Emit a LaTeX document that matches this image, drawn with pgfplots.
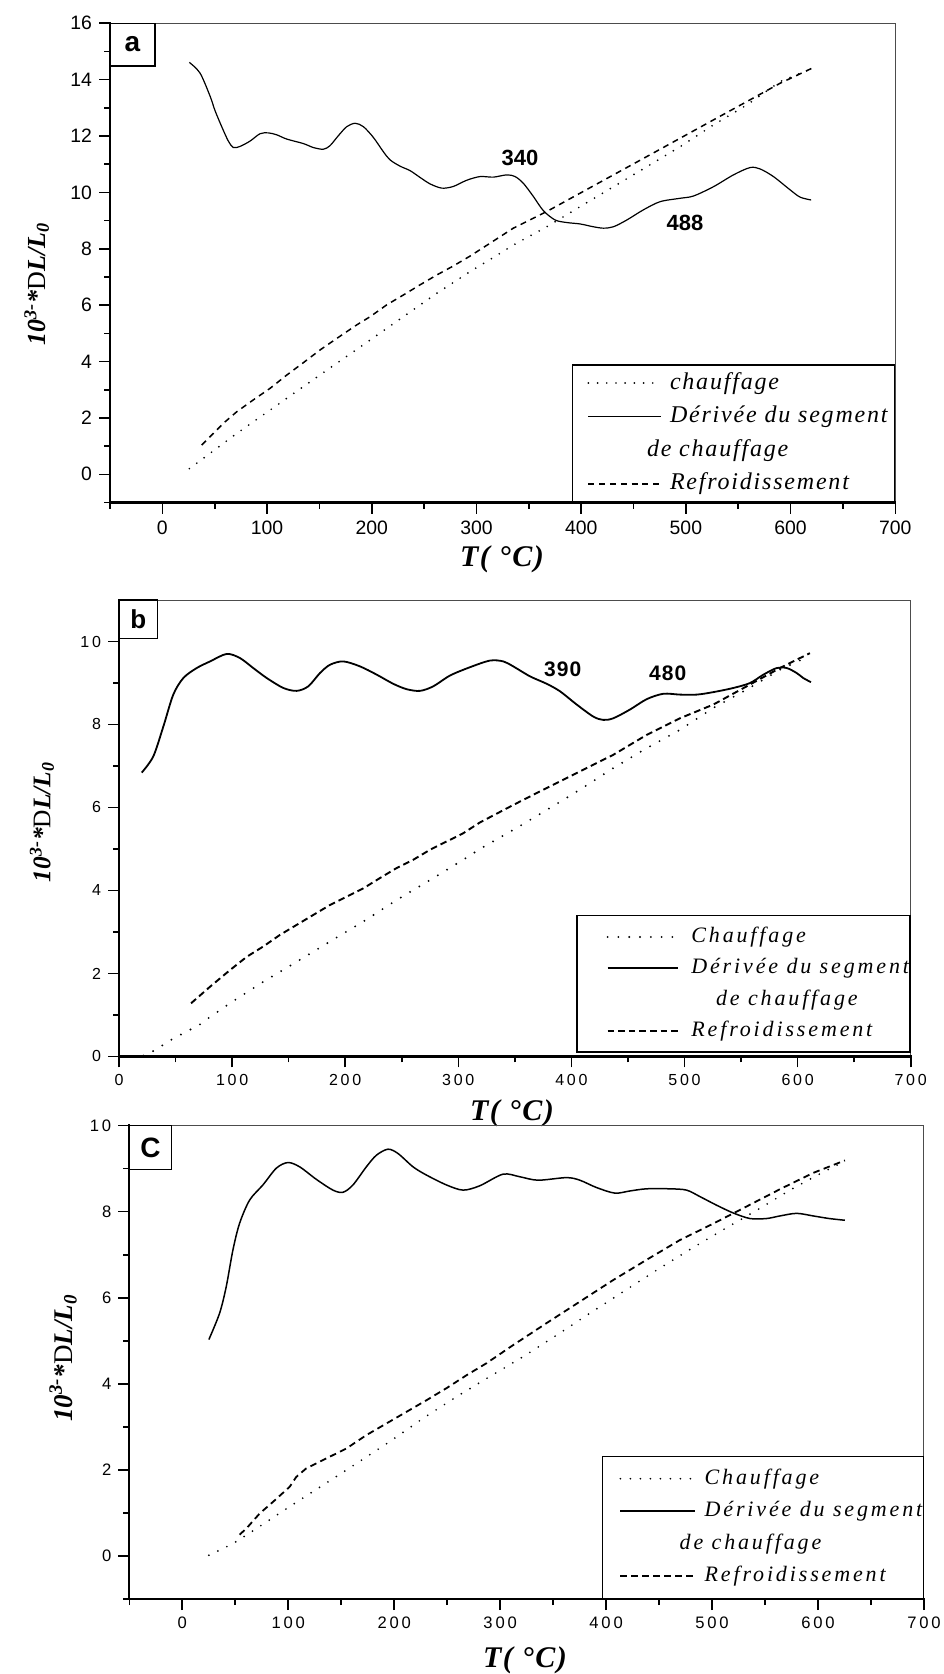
\documentclass[border=0pt]{standalone}
\usepackage{fontspec}
\setmainfont{Liberation Serif}
\usepackage{pgfplots}
\pgfplotsset{compat=1.18}
\newfontfamily\sansA{Liberation Sans}
\newfontfamily\sansB[LetterSpace=17]{Liberation Sans}
\newfontfamily\sansC[LetterSpace=5]{Liberation Sans}
\newfontfamily\serifL[LetterSpace=7.5]{Liberation Serif}
\newfontfamily\serifM[LetterSpace=13]{Liberation Serif}
\newfontfamily\serifT[LetterSpace=5]{Liberation Serif}

\pgfplotsset{
  panel/.style={
    scale only axis,
    axis line style={line width=0.5pt, black!70},
    tick align=outside,
    tick pos=left,
    major tick length=5.5pt,
    minor tick length=3pt,
    tick style={black, line width=0.8pt},
    /pgf/number format/assume math mode=true,
    clip=false,
    legend cell align=left,
    after end axis/.append code={\draw[black, line width=1.1pt, line cap=rect] (rel axis cs:0,1) -- (rel axis cs:0,0) -- (rel axis cs:1,0);},
  },
  heat/.style={black, line width=0.95pt, line cap=round, dash pattern=on 0pt off 4.6pt},
  cool/.style={black, line width=0.75pt, dash pattern=on 3pt off 2.4pt},
  deriv/.style={black, line width=0.6pt, smooth, tension=0.5},
}

\newcommand{\ylab}{\bfseries\itshape 10\textsuperscript{3-}*{\mdseries\upshape D}L/L\textsubscript{0}}

\begin{document}
\begin{tikzpicture}
\path[use as bounding box] (0pt,0pt) rectangle (471.5pt,-837pt);

% ================= panel a =================
\begin{axis}[panel,
  at={(55pt,-11.6pt)}, anchor=north west,
  width=392.65pt, height=239.65pt,
  xmin=-50, xmax=700, ymin=-1, ymax=16,
  xtick={0,100,...,700}, minor xtick={-50,50,...,650},
  ytick={0,2,...,16}, minor ytick={-1,1,...,15},
  ticklabel style={font=\fontsize{9.7}{11}\selectfont\sansA},
  legend image code/.code={\path[draw=none,fill=none] (0pt,0pt) -- (40.85pt,0pt); \draw[#1] (4.35pt,0pt) -- (40.85pt,0pt);},
  legend style={at={(1,0)}, anchor=south east, draw=black, line width=0.7pt,
    font=\fontsize{12}{14}\selectfont\serifL\itshape,
    inner xsep=3.5pt, inner ysep=3pt, row sep=4.8pt, column sep=3.85pt,
    nodes={inner xsep=0pt, inner ysep=0pt, text height=9pt, text depth=3pt}},
]
\addplot[heat] coordinates {
(25.8,0.20) (36.0,0.48) (71.1,1.45) (102.9,2.28) (134.7,3.11) (166.6,3.94)
(198.4,4.76) (230.2,5.59) (262.1,6.42) (293.9,7.19) (313.0,7.62) (335.2,8.13)
(367.1,8.78) (398.9,9.49) (430.8,10.20) (462.7,10.91) (494.5,11.62)
(526.3,12.39) (558.2,13.10) (590.0,13.93) (618.6,14.37)
};
\addlegendentry{chauffage}
\addplot[deriv] coordinates {
(25.8,14.61) (36.0,14.23) (45.6,13.41) (50.3,12.90) (56.7,12.33) (63.0,11.82)
(67.8,11.59) (74.2,11.63) (83.8,11.82) (93.3,12.08) (101.2,12.11) (109.3,12.04)
(118.8,11.89) (134.7,11.73) (144.2,11.59) (153.8,11.53) (160.2,11.66)
(168.1,12.01) (176.1,12.33) (184.1,12.45) (192.0,12.33) (201.5,11.95)
(211.1,11.44) (217.5,11.15) (227.0,10.93) (236.6,10.77) (246.1,10.53)
(255.7,10.30) (266.9,10.15) (277.9,10.21) (290.7,10.43) (303.4,10.56)
(316.1,10.54) (328.9,10.62) (336.9,10.56) (344.8,10.32) (354.4,9.85)
(363.9,9.35) (375.1,9.02) (386.2,8.93) (398.9,8.88) (411.6,8.78) (421.2,8.73)
(430.8,8.78) (443.6,9.02) (459.4,9.38) (475.4,9.67) (494.5,9.79) (507.2,9.87)
(526.3,10.20) (545.4,10.62) (561.3,10.88) (570.9,10.83) (583.6,10.56)
(599.5,10.09) (609.1,9.83) (619.6,9.73)
};
\addlegendentry{Dérivée du segment}
\addlegendimage{empty legend}
\addlegendentry{\hspace*{-11.5pt}de chauffage}
\addplot[cool] coordinates {
(37.6,1.04) (48.7,1.45) (58.3,1.81) (71.1,2.22) (86.9,2.64) (102.9,3.05)
(118.8,3.52) (134.7,3.96) (150.6,4.41) (166.6,4.82) (185.7,5.30) (198.4,5.59)
(214.3,6.01) (230.2,6.36) (246.1,6.72) (262.1,7.07) (277.9,7.39) (293.9,7.74)
(335.2,8.73) (367.1,9.32) (398.9,9.97) (430.8,10.62) (462.7,11.27)
(494.5,11.92) (526.3,12.57) (558.2,13.22) (590.0,13.87) (620.3,14.40)
};
\addlegendentry{Refroidissement}
\node[font=\fontsize{11}{13}\selectfont\sansA\bfseries] at (axis cs:341.6,11.21) {340};
\node[font=\fontsize{11}{13}\selectfont\sansA\bfseries] at (axis cs:499.2,8.93) {488};
\end{axis}
\node[draw=black, line width=0.6pt, minimum width=22.5pt, minimum height=21.45pt, inner sep=0pt,
  font=\fontsize{14}{16}\selectfont\sansA\bfseries] at (66.25pt,-22.3pt) {a};
\node[font=\fontsize{15}{17}\selectfont\serifT\bfseries\itshape] at (251pt,-279.5pt) {T( °C)};
\node[rotate=90, font=\fontsize{13}{15}\selectfont] at (18.35pt,-142pt) {\ylab};

% ================= panel b =================
\begin{axis}[panel,
  at={(59.5pt,-300pt)}, anchor=north west,
  width=395.85pt, height=228.2pt,
  xmin=0, xmax=700, ymin=0, ymax=11,
  xtick={0,100,...,700}, minor xtick={50,150,...,650},
  ytick={0,2,...,10}, minor ytick={1,3,...,9},
  ticklabel style={font=\fontsize{8}{10}\selectfont\sansB},
  legend image code/.code={\path[draw=none,fill=none] (0pt,0pt) -- (49.8pt,0pt); \draw[#1] (14.8pt,0pt) -- (49.8pt,0pt);},
  legend style={at={(1,0.0077)}, anchor=south east, draw=black, line width=0.7pt,
    font=\fontsize{11}{13}\selectfont\serifM\itshape,
    inner xsep=0.5pt, inner ysep=5pt, row sep=4.35pt, column sep=6.35pt,
    nodes={inner xsep=0pt, inner ysep=0pt, text height=8.5pt, text depth=2.8pt}},
]
\addplot[heat, line width=1.05pt, dash pattern=on 0pt off 5.4pt] coordinates {
(21.5,0.02) (27.4,0.08) (48.0,0.43) (71.6,0.77) (79.0,0.92) (98.1,1.28)
(127.6,1.80) (157.1,2.28) (186.6,2.77) (216.0,3.25) (245.5,3.77) (275.0,4.25)
(304.4,4.74) (319.2,5.00) (348.6,5.46) (378.2,5.94) (407.6,6.43) (437.1,6.95)
(466.6,7.43) (496.0,7.87) (525.5,8.40) (555.0,8.84) (584.4,9.32) (609.5,9.64)
};
\addlegendentry{Chauffage}
\addplot[deriv, line width=0.9pt] coordinates {
(20.1,6.84) (30.3,7.23) (39.2,7.95) (48.0,8.72) (56.9,9.12) (68.7,9.36)
(80.5,9.52) (95.2,9.70) (107.0,9.60) (118.7,9.36) (130.6,9.12) (145.3,8.88)
(157.1,8.81) (167.4,8.92) (177.7,9.24) (186.6,9.44) (198.3,9.52) (213.1,9.40)
(227.9,9.20) (242.5,8.98) (254.4,8.85) (266.1,8.81) (277.9,8.92) (292.7,9.18)
(310.3,9.38) (328.0,9.54) (339.8,9.52) (348.6,9.40) (363.4,9.16) (378.2,8.98)
(389.9,8.80) (404.7,8.48) (419.4,8.19) (428.2,8.11) (437.1,8.15) (451.8,8.36)
(466.6,8.61) (481.3,8.74) (496.0,8.72) (510.8,8.72) (525.5,8.78) (543.2,8.88)
(558.0,9.00) (569.7,9.20) (581.5,9.36) (590.4,9.36) (599.2,9.24) (605.0,9.12)
(611.8,9.02)
};
\addlegendentry{Dérivée du segment}
\addlegendimage{empty legend}
\addlegendentry{\hspace*{12.35pt}de chauffage}
\addplot[cool, line width=0.95pt, dash pattern=on 3.3pt off 2pt] coordinates {
(63.7,1.28) (80.5,1.68) (98.1,2.08) (112.9,2.40) (127.6,2.65) (142.4,2.93)
(157.1,3.17) (171.8,3.41) (186.6,3.65) (201.3,3.85) (216.0,4.05) (230.8,4.30)
(245.5,4.54) (260.2,4.74) (275.0,4.98) (289.7,5.18) (304.4,5.38) (319.2,5.64)
(348.6,6.06) (378.2,6.47) (407.6,6.87) (437.1,7.27) (466.6,7.75) (496.0,8.15)
(525.5,8.48) (555.0,8.92) (584.4,9.36) (610.9,9.72)
};
\addlegendentry{Refroidissement}
\node[font=\fontsize{10.5}{12}\selectfont\sansC\bfseries] at (axis cs:392.3,9.34) {390};
\node[font=\fontsize{10.5}{12}\selectfont\sansC\bfseries] at (axis cs:485.1,9.24) {480};
\end{axis}
\node[draw=black, line width=0.6pt, minimum width=19.35pt, minimum height=19.3pt, inner sep=0pt,
  font=\fontsize{13}{15}\selectfont\sansA\bfseries] at (69.2pt,-309.65pt) {b};
\node[font=\fontsize{15}{17}\selectfont\serifT\bfseries\itshape] at (256pt,-556.5pt) {T( °C)};
\node[rotate=90, font=\fontsize{12.7}{15}\selectfont] at (21pt,-411pt) {\ylab};

% ================= panel c =================
\begin{axis}[panel,
  at={(64.65pt,-562.75pt)}, anchor=north west,
  width=397.35pt, height=236.85pt,
  xmin=-50, xmax=700, ymin=-1, ymax=10,
  xtick={0,100,...,700}, minor xtick={-50,50,...,650},
  ytick={0,2,...,10}, minor ytick={-1,1,...,9},
  ticklabel style={font=\fontsize{8.3}{10}\selectfont\sansB},
  legend image code/.code={\path[draw=none,fill=none] (0pt,0pt) -- (45.85pt,0pt); \draw[#1] (8.35pt,0pt) -- (45.85pt,0pt);},
  legend style={at={(1,0)}, anchor=south east, draw=black, line width=0.7pt,
    font=\fontsize{11}{13}\selectfont\serifM\itshape,
    inner xsep=0.5pt, inner ysep=5.5pt, row sep=4.95pt, column sep=4.15pt,
    nodes={inner xsep=0pt, inner ysep=0pt, text height=8.5pt, text depth=2.8pt}},
]
\addplot[heat, dash pattern=on 0pt off 5pt] coordinates {
(25.1,0.02) (47.8,0.29) (69.9,0.64) (101.3,1.15) (132.8,1.65) (164.3,2.15)
(195.8,2.66) (227.2,3.20) (258.7,3.70) (290.2,4.17) (321.6,4.63) (353.2,5.13)
(384.6,5.64) (416.1,6.14) (447.6,6.64) (479.0,7.12) (510.5,7.58) (542.0,8.03)
(573.5,8.50) (604.9,8.92) (625.4,9.17)
};
\addlegendentry{Chauffage}
\addplot[deriv, line width=0.75pt] coordinates {
(25.1,5.03) (35.2,5.64) (41.5,6.26) (47.8,7.11) (54.1,7.73) (63.6,8.27)
(76.1,8.62) (88.8,9.01) (99.7,9.14) (110.8,9.04) (126.5,8.75) (142.2,8.50)
(151.7,8.45) (161.1,8.62) (173.7,9.04) (183.2,9.31) (194.1,9.45) (203.6,9.35)
(217.8,9.04) (230.4,8.85) (249.3,8.62) (265.0,8.50) (280.7,8.60) (302.7,8.87)
(318.5,8.81) (335.8,8.73) (362.6,8.79) (375.2,8.73) (390.9,8.56) (408.2,8.43)
(422.4,8.48) (438.1,8.53) (460.2,8.53) (475.9,8.50) (488.5,8.35) (504.2,8.15)
(519.9,7.97) (535.7,7.84) (551.4,7.84) (564.0,7.90) (579.8,7.96) (595.5,7.90)
(610.6,7.84) (625.4,7.80)
};
\addlegendentry{Dérivée du segment}
\addlegendimage{empty legend}
\addlegendentry{\hspace*{-12.5pt}de chauffage}
\addplot[cool, line width=0.9pt, dash pattern=on 3.3pt off 2.2pt] coordinates {
(54.1,0.50) (60.4,0.64) (73.0,0.99) (85.6,1.26) (101.3,1.61) (107.6,1.84)
(117.1,2.04) (136.0,2.27) (154.9,2.50) (173.7,2.81) (192.6,3.08) (211.5,3.35)
(230.4,3.62) (249.3,3.90) (268.2,4.20) (287.1,4.48) (312.2,4.90) (343.7,5.41)
(375.2,5.91) (406.6,6.41) (438.1,6.88) (469.6,7.34) (501.0,7.72) (532.6,8.12)
(564.0,8.52) (595.5,8.90) (625.4,9.19)
};
\addlegendentry{Refroidissement}
\end{axis}
\node[draw=black, line width=0.6pt, minimum width=21.2pt, minimum height=21.95pt, inner sep=0pt,
  font=\fontsize{14}{16}\selectfont\sansA\bfseries] at (75.25pt,-573.7pt) {C};
\node[font=\fontsize{15}{17}\selectfont\serifT\bfseries\itshape] at (262.5pt,-830.2pt) {T( °C)};
\node[rotate=90, font=\fontsize{13.5}{15}\selectfont] at (31.5pt,-679pt) {\ylab};
\end{tikzpicture}
\end{document}
